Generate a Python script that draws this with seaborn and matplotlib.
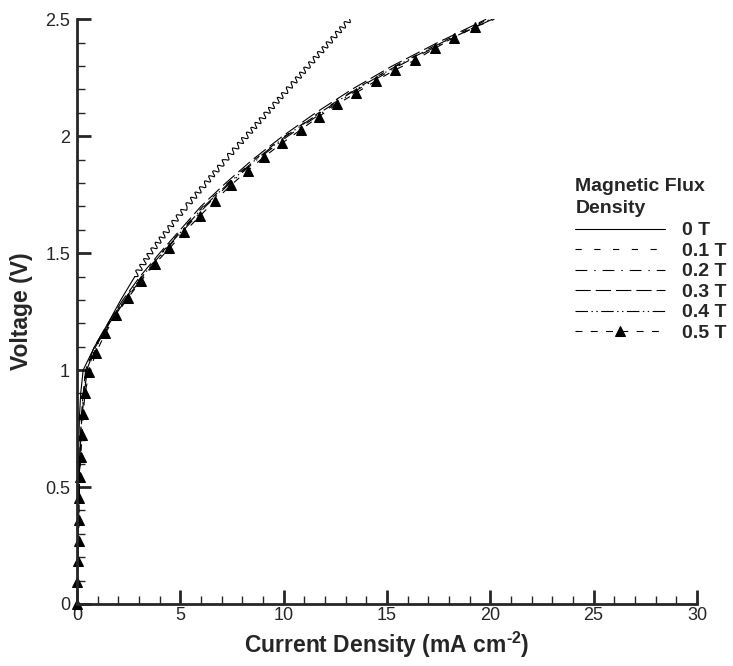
import matplotlib
matplotlib.use("Agg")
import matplotlib.pyplot as plt
import seaborn as sns
import pandas as pd
from matplotlib.ticker import MultipleLocator

# 0 T (no field)
v_0t = [0, 0.2, 0.4, 0.6, 0.8, 0.9, 1.0, 1.1, 1.2, 1.3, 1.4, 1.5, 1.6, 1.7, 1.8, 1.9, 2.0, 2.1, 2.2, 2.3, 2.4, 2.5]
i_0t = [0, 0.02, 0.04, 0.07, 0.12, 0.18, 0.3, 0.85, 1.5, 2.12, 2.8, 3.55, 4.4, 5.3, 6.25, 7.2, 8.2, 9.2, 10.2, 11.2, 12.2, 13.2]

# voltage grid for the 0.1 - 0.4 T curves
v_grid = [0, 0.2, 0.4, 0.6, 0.8, 0.9, 1.0, 1.1, 1.2, 1.3, 1.4, 1.5, 1.6, 1.7, 1.8, 1.9, 2.0, 2.1, 2.2, 2.3, 2.4, 2.5]
i_01t = [0, 0.03, 0.08, 0.13, 0.22, 0.32, 0.45, 0.88, 1.55, 2.28, 3.12, 4.08, 5.08, 6.1, 7.3, 8.6, 10.05, 11.7, 13.45, 15.4, 17.6, 19.9]
i_02t = [0, 0.03, 0.09, 0.14, 0.24, 0.35, 0.5, 0.93, 1.6, 2.34, 3.2, 4.16, 5.18, 6.22, 7.42, 8.72, 10.2, 11.85, 13.6, 15.55, 17.75, 20.0]
i_03t = [0, 0.03, 0.07, 0.12, 0.21, 0.3, 0.42, 0.84, 1.5, 2.22, 3.05, 4.0, 5.0, 6.0, 7.2, 8.5, 9.95, 11.55, 13.3, 15.25, 17.45, 19.8]
i_04t = [0, 0.03, 0.08, 0.13, 0.23, 0.33, 0.47, 0.9, 1.57, 2.3, 3.15, 4.12, 5.12, 6.15, 7.35, 8.65, 10.1, 11.75, 13.5, 15.45, 17.65, 20.1]

# 0.5 T - triangle positions, last point is the line end
i_05t = [0.0, 0.02, 0.05, 0.08, 0.1, 0.1, 0.13, 0.18, 0.25, 0.3, 0.39, 0.6, 0.92, 1.37, 1.89, 2.48, 3.1, 3.77,
         4.47, 5.18, 5.95, 6.66, 7.45, 8.26, 9.06, 9.92, 10.82, 11.69, 12.58, 13.5, 14.45, 15.38, 16.38, 17.32,
         18.25, 19.25, 20.2]
v_05t = [0.0, 0.095, 0.184, 0.269, 0.359, 0.452, 0.544, 0.630, 0.723, 0.811, 0.901, 0.993, 1.074, 1.157, 1.236,
         1.31, 1.382, 1.454, 1.52, 1.589, 1.659, 1.723, 1.791, 1.853, 1.912, 1.97, 2.027, 2.083, 2.136, 2.185,
         2.236, 2.283, 2.326, 2.376, 2.421, 2.466, 2.5]

labels = ["0 T", "0.1 T", "0.2 T", "0.3 T", "0.4 T", "0.5 T"]

sns.set_style("ticks")
plt.rcParams["font.family"] = ["Liberation Sans", "DejaVu Sans"]
plt.rcParams["mathtext.fontset"] = "custom"
plt.rcParams["mathtext.rm"] = "Liberation Sans:bold"
plt.rcParams["mathtext.bf"] = "Liberation Sans:bold"
plt.rcParams["lines.scale_dashes"] = False

fig = plt.figure(figsize=(7.33, 6.66), dpi=100)
ax = fig.add_axes([0.105, 0.0931, 0.8458, 0.878])

lw = 0.8
split = 10  # 0 T gets noisy above ~1.4 V
df0a = pd.DataFrame({"I": i_0t[:split + 1], "V": v_0t[:split + 1]})
df0b = pd.DataFrame({"I": i_0t[split:], "V": v_0t[split:]})
sns.lineplot(data=df0a, x="I", y="V", ax=ax, color="black", lw=lw, sort=False, estimator=None, label=labels[0])
sns.lineplot(data=df0b, x="I", y="V", ax=ax, color="black", lw=lw, sort=False, estimator=None)
ax.lines[-1].set_sketch_params(2.6, 7, 1.3)

styles = [(0, (4.5, 9)), (0, (8.5, 5, 1, 5)), (0, (11, 3.6)), (0, (9, 2.5, 1, 2.5, 1, 2.5))]
for lab, cur, ls in zip(labels[1:5], [i_01t, i_02t, i_03t, i_04t], styles):
    d = pd.DataFrame({"I": cur, "V": v_grid})
    sns.lineplot(data=d, x="I", y="V", ax=ax, color="black", lw=lw, sort=False, estimator=None,
                 label=lab, linestyle=ls)

d5 = pd.DataFrame({"I": i_05t, "V": v_05t})
sns.lineplot(data=d5, x="I", y="V", ax=ax, color="black", lw=lw, sort=False, estimator=None,
             label=labels[5], linestyle=(0, (5, 6)), marker="^", markersize=7.5,
             markevery=list(range(len(i_05t) - 1)), markeredgecolor="black", markerfacecolor="black",
             clip_on=False)

ax.set_xlim(0, 30)
ax.set_ylim(0, 2.5)
ax.xaxis.set_minor_locator(MultipleLocator(1))
ax.yaxis.set_minor_locator(MultipleLocator(0.1))
ax.set_xticks([0, 5, 10, 15, 20, 25, 30])
ax.set_xticklabels(["0", "5", "10", "15", "20", "25", "30"])
ax.set_yticks([0, 0.5, 1, 1.5, 2, 2.5])
ax.set_yticklabels(["0", "0.5", "1", "1.5", "2", "2.5"])

sns.despine(ax=ax)
for s in ["left", "bottom"]:
    ax.spines[s].set_linewidth(2)
ax.tick_params(which="major", direction="in", length=10, width=2, labelsize=13)
ax.tick_params(which="minor", direction="in", length=6, width=1)
ax.tick_params(axis="x", which="major", pad=2)
ax.tick_params(axis="y", which="major", pad=5)

ax.set_xlabel(r"Current Density (mA cm$^{\text{-}2}$)", fontsize=16.5, fontweight="bold", labelpad=4)
ax.set_ylabel("Voltage (V)", fontsize=16.5, fontweight="bold", labelpad=9)

leg = ax.legend(loc="upper left", bbox_to_anchor=(0.785, 0.7325), bbox_transform=fig.transFigure,
                frameon=False, title="Magnetic Flux\nDensity", alignment="left",
                title_fontproperties={"weight": "bold", "size": 14},
                prop={"weight": "bold", "size": 14}, handlelength=4.6, handletextpad=0.9,
                labelspacing=0.15, numpoints=1, borderaxespad=0, borderpad=0)
leg.get_title().set_linespacing(1.35)
leg._legend_box.sep = 3.6

fig.savefig("out.png", dpi=100)
